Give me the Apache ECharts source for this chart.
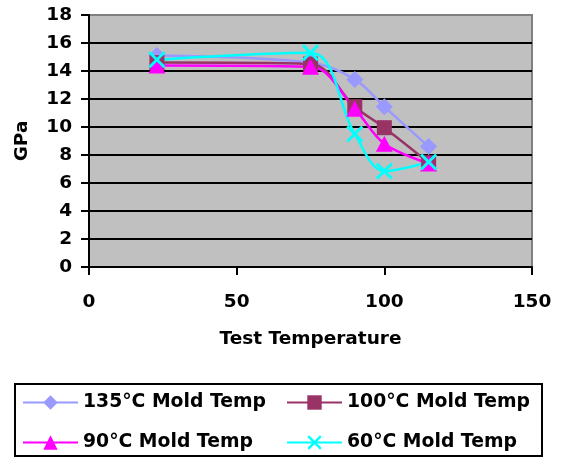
<!DOCTYPE html>
<html>
<head>
<meta charset="utf-8">
<script src="https://cdn.jsdelivr.net/npm/echarts@6/dist/echarts.min.js"></script>
<style>
html,body{margin:0;padding:0;background:#fff;}
#chart{width:561px;height:458px;}
</style>
</head>
<body>
<div id="chart"></div>
<script>
var testTemps = [23, 75, 90, 100, 115];
var mold135 = [15.1, 14.6, 13.4, 11.45, 8.6];
var mold100 = [14.6, 14.5, 11.45, 9.95, 7.45];
var mold90 = [14.4, 14.3, 11.3, 8.8, 7.4];
var mold60 = [14.8, 15.3, 9.5, 6.85, 7.5];
var seriesNames = ['135°C Mold Temp', '100°C Mold Temp', '90°C Mold Temp', '60°C Mold Temp'];

function pairs(ys) { return testTemps.map(function (x, i) { return [x, ys[i]]; }); }

var FONT = 'DejaVu Sans';
var crossPath = 'path://M0,1.2 L1.2,0 L5,3.8 L8.8,0 L10,1.2 L6.2,5 L10,8.8 L8.8,10 L5,6.2 L1.2,10 L0,8.8 L3.8,5 Z';

var chart = echarts.init(document.getElementById('chart'), null, { renderer: 'canvas' });

var splitColors = ['#000', '#000', '#000', '#000', '#000', '#000', '#000', '#000', '#000', '#808080'];

function legendAt(name, left, top) {
  return {
    data: [name], left: left, top: top, orient: 'horizontal',
    itemWidth: 55, itemHeight: 18, itemGap: 0, padding: 0,
    textStyle: { fontFamily: FONT, fontWeight: 'bold', fontSize: 18.8, color: '#000' },
    selectedMode: false
  };
}

var option = {
  animation: false,
  backgroundColor: '#fff',
  grid: {
    left: 89, top: 15, width: 443, height: 252,
    show: true, backgroundColor: '#C0C0C0', borderColor: '#808080', borderWidth: 2
  },
  xAxis: {
    type: 'value', min: 0, max: 150, interval: 50,
    name: 'Test Temperature', nameLocation: 'middle', nameGap: 63,
    nameTextStyle: { fontFamily: FONT, fontWeight: 'bold', fontSize: 18.5, color: '#000' },
    axisLine: { show: true, onZero: false, lineStyle: { color: '#000', width: 2 } },
    axisTick: { show: true, inside: false, length: 8, lineStyle: { color: '#000', width: 2 } },
    axisLabel: { margin: 26, fontFamily: FONT, fontWeight: 'bold', fontSize: 18.5, color: '#000' },
    splitLine: { show: false }
  },
  yAxis: {
    type: 'value', min: 0, max: 18, interval: 2,
    name: 'GPa', nameLocation: 'middle', nameGap: 57, nameRotate: 90,
    nameTextStyle: { fontFamily: FONT, fontWeight: 'bold', fontSize: 18.5, color: '#000' },
    axisLine: { show: true, onZero: false, lineStyle: { color: '#000', width: 2 } },
    axisTick: { show: true, inside: false, length: 8, lineStyle: { color: '#000', width: 2 } },
    axisLabel: { margin: 17, fontFamily: FONT, fontWeight: 'bold', fontSize: 18.5, color: '#000' },
    splitLine: { show: true, lineStyle: { color: splitColors, width: 2 } }
  },
  legend: [
    legendAt(seriesNames[0], 22, 393),
    legendAt(seriesNames[1], 286, 393),
    legendAt(seriesNames[2], 22, 433),
    legendAt(seriesNames[3], 286, 433)
  ],
  graphic: [{
    type: 'rect', left: 14, top: 383, z: -1,
    shape: { width: 527, height: 72 },
    style: { fill: '#fff', stroke: '#000', lineWidth: 2 }
  }],
  series: [
    {
      name: seriesNames[0], type: 'line', data: pairs(mold135), smooth: 0.35,
      symbol: 'diamond', symbolSize: [17, 17],
      lineStyle: { color: '#9999FF', width: 2.5 },
      itemStyle: { color: '#9999FF' }
    },
    {
      name: seriesNames[1], type: 'line', data: pairs(mold100), smooth: 0.35,
      symbol: 'rect', symbolSize: 15,
      lineStyle: { color: '#993366', width: 2.5 },
      itemStyle: { color: '#993366' }
    },
    {
      name: seriesNames[2], type: 'line', data: pairs(mold90), smooth: 0.35,
      symbol: 'triangle', symbolSize: [17, 16],
      lineStyle: { color: '#FF00FF', width: 2.5 },
      itemStyle: { color: '#FF00FF' }
    },
    {
      name: seriesNames[3], type: 'line', data: pairs(mold60), smooth: 0.35,
      symbol: crossPath, symbolSize: 17,
      lineStyle: { color: '#00FFFF', width: 2.5 },
      itemStyle: { color: '#00FFFF' }
    }
  ]
};
chart.setOption(option);
</script>
</body>
</html>
